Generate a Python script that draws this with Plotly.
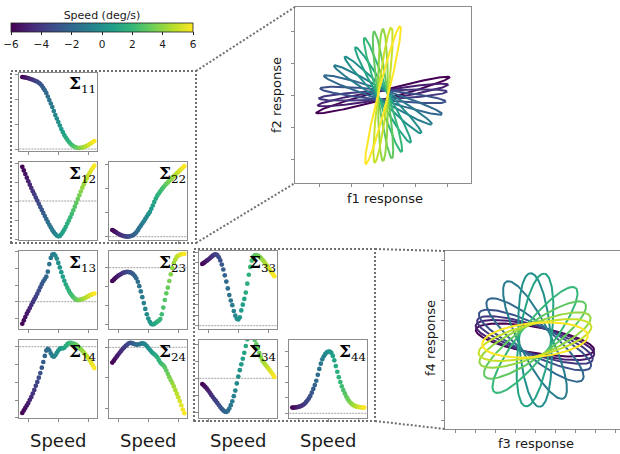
import numpy as np
import plotly.graph_objects as go
from plotly.colors import sample_colorscale

# ---------------- data ----------------
SPEED = [-6.0, -5.75, -5.5, -5.25, -5.0, -4.75, -4.5, -4.25, -4.0, -3.75, -3.5, -3.25,
         -3.0, -2.75, -2.5, -2.25, -2.0, -1.75, -1.5, -1.25, -1.0, -0.75, -0.5, -0.25,
         0.0, 0.25, 0.5, 0.75, 1.0, 1.25, 1.5, 1.75, 2.0, 2.25, 2.5, 2.75, 3.0, 3.25,
         3.5, 3.75, 4.0, 4.25, 4.5, 4.75, 5.0, 5.25, 5.5, 5.75, 6.0]

SIGMA_11 = [2.88, 2.87, 2.86, 2.85, 2.83, 2.81, 2.79, 2.77, 2.74, 2.72, 2.69, 2.65,
            2.60, 2.53, 2.44, 2.35, 2.24, 2.10, 1.96, 1.82, 1.68, 1.52, 1.36, 1.22,
            1.08, 0.94, 0.80, 0.68, 0.56, 0.46, 0.37, 0.29, 0.22, 0.16, 0.12, 0.08,
            0.06, 0.05, 0.04, 0.05, 0.06, 0.08, 0.10, 0.13, 0.16, 0.20, 0.24, 0.28, 0.32]
SIGMA_12 = [1.80, 1.61, 1.42, 1.23, 1.04, 0.86, 0.68, 0.51, 0.35, 0.18, 0.02, -0.15,
            -0.31, -0.47, -0.63, -0.79, -0.95, -1.10, -1.25, -1.39, -1.52, -1.64, -1.74, -1.82,
            -1.86, -1.84, -1.75, -1.63, -1.51, -1.36, -1.19, -1.03, -0.86, -0.68, -0.49, -0.30,
            -0.10, 0.10, 0.30, 0.50, 0.70, 0.87, 1.04, 1.20, 1.36, 1.50, 1.63, 1.75, 1.86]
SIGMA_22 = [0.28, 0.24, 0.20, 0.16, 0.12, 0.09, 0.06, 0.04, 0.02, 0.01, 0.00, 0.01,
            0.02, 0.04, 0.07, 0.12, 0.18, 0.27, 0.37, 0.46, 0.55, 0.64, 0.74, 0.84,
            0.94, 1.03, 1.16, 1.30, 1.45, 1.59, 1.71, 1.80, 1.89, 1.98, 2.06, 2.13,
            2.20, 2.26, 2.33, 2.39, 2.46, 2.52, 2.58, 2.64, 2.70, 2.76, 2.82, 2.88, 2.94]
SIGMA_13 = [-1.32, -1.12, -0.92, -0.72, -0.55, -0.38, -0.20, -0.03, 0.14, 0.30, 0.48, 0.67,
            0.86, 1.05, 1.22, 1.36, 1.50, 1.80, 2.25, 2.62, 2.82, 2.85, 2.76, 2.58,
            2.32, 2.05, 1.77, 1.50, 1.25, 1.03, 0.84, 0.66, 0.50, 0.38, 0.27, 0.18,
            0.12, 0.10, 0.11, 0.13, 0.16, 0.19, 0.23, 0.28, 0.33, 0.38, 0.42, 0.46, 0.49]
SIGMA_23 = [-0.70, -0.63, -0.55, -0.48, -0.42, -0.37, -0.32, -0.28, -0.25, -0.23, -0.22, -0.23,
            -0.25, -0.29, -0.35, -0.44, -0.56, -0.74, -0.97, -1.25, -1.55, -1.86, -2.17, -2.45,
            -2.68, -2.85, -2.96, -2.99, -2.96, -2.90, -2.84, -2.79, -2.70, -2.45, -2.10, -1.70,
            -1.35, -1.05, -0.70, -0.35, -0.02, 0.25, 0.43, 0.57, 0.64, 0.68, 0.71, 0.72, 0.73]
SIGMA_33 = [5.88, 5.98, 6.08, 6.19, 6.30, 6.42, 6.55, 6.67, 6.76, 6.80, 6.72, 6.52,
            6.22, 5.82, 5.35, 4.80, 4.20, 3.55, 2.92, 2.40, 1.95, 1.40, 0.95, 0.65,
            0.60, 0.80, 1.45, 2.00, 2.55, 3.15, 4.00, 4.85, 5.60, 6.20, 6.55, 6.70,
            6.72, 6.68, 6.58, 6.45, 6.30, 6.12, 5.93, 5.73, 5.52, 5.32, 5.12, 4.92, 4.72]
SIGMA_14 = [-3.72, -3.58, -3.44, -3.30, -3.16, -2.98, -2.82, -2.63, -2.43, -2.20, -1.98, -1.74,
            -1.48, -1.18, -0.86, -0.52, -0.22, -0.12, -0.20, -0.38, -0.52, -0.56, -0.48, -0.34,
            -0.22, -0.12, -0.08, -0.10, -0.06, 0.04, 0.14, 0.20, 0.21, 0.20, 0.18, 0.14,
            0.10, 0.02, -0.06, -0.14, -0.23, -0.33, -0.43, -0.53, -0.64, -0.77, -0.91, -1.05, -1.20]
SIGMA_24 = [-0.50, -0.44, -0.37, -0.30, -0.24, -0.17, -0.11, -0.05, 0.00, 0.05, 0.09, 0.13,
            0.15, 0.14, 0.12, 0.10, 0.09, 0.09, 0.10, 0.12, 0.13, 0.12, 0.09, 0.04,
            -0.02, -0.08, -0.14, -0.19, -0.23, -0.27, -0.33, -0.42, -0.50, -0.55, -0.59, -0.66,
            -0.76, -0.87, -0.98, -1.08, -1.17, -1.28, -1.40, -1.52, -1.64, -1.76, -1.90, -2.04, -2.16]
SIGMA_34 = [-0.34, -0.42, -0.51, -0.61, -0.72, -0.85, -0.98, -1.10, -1.22, -1.33, -1.45, -1.57,
            -1.69, -1.80, -1.89, -1.96, -1.98, -1.92, -1.78, -1.58, -1.35, -1.05, -0.72, -0.30,
            0.10, 0.48, 0.82, 1.15, 1.50, 1.90, 2.30, 2.58, 2.66, 2.64, 2.50, 2.25,
            2.00, 1.78, 1.50, 1.25, 1.05, 0.92, 0.80, 0.69, 0.58, 0.47, 0.35, 0.22, 0.08]
SIGMA_44 = [0.37, 0.37, 0.38, 0.39, 0.41, 0.44, 0.48, 0.53, 0.60, 0.70, 0.82, 0.96,
            1.12, 1.33, 1.57, 1.82, 2.10, 2.48, 2.86, 3.20, 3.48, 3.68, 3.83, 3.93,
            3.98, 3.98, 3.90, 3.70, 3.42, 3.05, 2.68, 2.33, 2.02, 1.74, 1.50, 1.28,
            1.08, 0.91, 0.77, 0.66, 0.57, 0.51, 0.46, 0.43, 0.41, 0.39, 0.38, 0.37, 0.37]

# covariance ellipses (f1,f2) and (f3,f4): speed, orientation (deg), semi-axes
ELL12_SPEED = [-6, -5, -4, -3, -2, -1, 0, 1, 2, 3, 4, 5, 6]
ELL12_ANGLE = [15, 9, 3, -6, -18, -31, -45, -60, -72, -82, -90, 83, 76]
ELL12_MAJOR = [69, 66, 64, 63, 62, 57, 54, 55, 60, 64, 66, 68, 71]
ELL12_MINOR = [4.5, 4.5, 4.5, 5, 5, 5, 5, 5, 5, 5, 5, 5, 5]

ELL34_SPEED = [-6, -5, -4, -3, -2, -1, 0, 1, 2, 3, 4, 5, 6]
ELL34_ANGLE = [-10, -14, -19, -26, -40, -64, -86, 82, 52, 36, 23, 14, 5]
ELL34_MAJOR = [60, 61, 61, 62, 62, 65, 67, 67, 66, 62, 60, 58, 53]
ELL34_MINOR = [13, 14, 14, 15, 16, 16, 16, 16, 16, 16, 16, 16, 17]

CB_TICKS = [-6, -4, -2, 0, 2, 4, 6]
CB_TICKTEXT = ["\u22126", "\u22124", "\u22122", "0", "2", "4", "6"]

# ---------------- layout helpers ----------------
W, H = 620, 454


def px(x):
    return x / W


def py(y):
    return 1 - y / H


FRAME = "#8c8c8c"
DOTC = "#707070"
TXT = "#1a1a1a"

fig = go.Figure()
layout = {}
shapes = []
annotations = []

small_axis = dict(showline=True, mirror=True, linecolor=FRAME, linewidth=1,
                  ticks="outside", ticklen=3, tickwidth=1, tickcolor=FRAME,
                  showticklabels=False, showgrid=False, zeroline=False, fixedrange=True)

panels = [
    ("11", SIGMA_11, 0, 0, 149.0, 25.0),
    ("12", SIGMA_12, 1, 0, 201.0, 19.0),
    ("22", SIGMA_22, 1, 1, 236.7, 24.0),
    ("13", SIGMA_13, 2, 0, 301.7, 16.7),
    ("23", SIGMA_23, 2, 1, 267.7, 19.0),
    ("33", SIGMA_33, 2, 2, 325.7, 10.5),
    ("14", SIGMA_14, 3, 0, 346.7, 17.8),
    ("24", SIGMA_24, 3, 1, 347.3, 30.5),
    ("34", SIGMA_34, 3, 2, 378.3, 17.0),
    ("44", SIGMA_44, 3, 3, 413.3, 15.5),
]

for k, (lab, vals, r, c, zero_px, unit) in enumerate(panels, start=1):
    cx = 58.3 + 90 * c
    x0, x1 = cx - 39, cx + 39
    y0 = 73 + 89 * r
    y1 = y0 + 78
    sfx = "" if k == 1 else str(k)
    layout["xaxis" + sfx] = dict(domain=[px(x0), px(x1)], range=[-6.5, 6.5],
                                 anchor="y" + sfx, tickvals=[-5, 0, 5], **small_axis)
    layout["yaxis" + sfx] = dict(domain=[py(y1), py(y0)],
                                 range=[(zero_px - y1) / unit, (zero_px - y0) / unit],
                                 anchor="x" + sfx, tick0=0, dtick=1, **small_axis)
    marker = dict(color=SPEED, colorscale="Viridis", cmin=-6, cmax=6, size=4.7,
                  line=dict(width=0))
    if k == 1:
        marker["showscale"] = True
        marker["colorbar"] = dict(
            orientation="h", x=px(102), xanchor="center", y=py(10), yanchor="top",
            len=182, lenmode="pixels", thickness=9, thicknessmode="pixels",
            xpad=0, ypad=0,
            title=dict(text="Speed (deg/s)", side="top", font=dict(size=11, color=TXT)),
            tickvals=CB_TICKS, ticktext=CB_TICKTEXT, ticks="outside", ticklen=3,
            tickcolor="#222", tickfont=dict(size=10.5, color=TXT),
            outlinewidth=0.8, outlinecolor="#222")
    fig.add_trace(go.Scatter(x=SPEED, y=vals, mode="markers", xaxis="x" + sfx,
                             yaxis="y" + sfx, marker=marker, hoverinfo="skip"))
    shapes.append(dict(type="line", xref="x" + sfx + " domain",
                       x0=0, x1=1, yref="y" + sfx, y0=0, y1=0, layer="below",
                       line=dict(color="#a0a0a0", width=1, dash="2px,1px")))
    annotations.append(dict(text="<b>\u03a3</b><sub>%s</sub>" % lab, xref="paper",
                            yref="paper", x=px(x1 + 1), y=py(y0 - 1.5), xanchor="right",
                            yanchor="top", showarrow=False,
                            font=dict(family="DejaVu Serif", size=17, color="black")))

big_axis = dict(showline=True, linecolor=FRAME, linewidth=1, ticks="outside", ticklen=3,
                tickwidth=1, tickcolor=FRAME, showticklabels=False, showgrid=False,
                zeroline=False, fixedrange=True, tick0=0)

layout["xaxis11"] = dict(domain=[px(295), px(471)], range=[-88, 88], dtick=32,
                         anchor="y11", mirror=True, **big_axis)
layout["yaxis11"] = dict(domain=[py(183), py(7)], range=[-88, 88], dtick=32,
                         anchor="x11", mirror=True, **big_axis)
layout["xaxis12"] = dict(domain=[px(445), 1.0], range=[-90, 85], dtick=20,
                         anchor="y12", mirror=True, **big_axis)
layout["yaxis12"] = dict(domain=[py(429), py(251)], range=[-89, 89], dtick=20,
                         anchor="x12", mirror=False, **big_axis)

t = np.linspace(0, 2 * np.pi, 160)


def add_ellipses(speeds, angles, majors, minors, xa, ya):
    for s, ang, a, b in zip(speeds, angles, majors, minors):
        th = np.deg2rad(ang)
        ex = a * np.cos(t) * np.cos(th) - b * np.sin(t) * np.sin(th)
        ey = a * np.cos(t) * np.sin(th) + b * np.sin(t) * np.cos(th)
        col = sample_colorscale("Viridis", [(s + 6) / 12])[0]
        fig.add_trace(go.Scatter(x=ex, y=ey, mode="lines", xaxis=xa, yaxis=ya,
                                 line=dict(color=col, width=2), hoverinfo="skip"))


add_ellipses(ELL12_SPEED, ELL12_ANGLE, ELL12_MAJOR, ELL12_MINOR, "x11", "y11")
add_ellipses(ELL34_SPEED, ELL34_ANGLE, ELL34_MAJOR, ELL34_MINOR, "x12", "y12")

# axis / column labels
for txt, x, y, ang in [("f1 response", 385, 198, 0), ("f2 response", 277, 95, -90),
                       ("f3 response", 536, 443.5, 0), ("f4 response", 430, 338, -90)]:
    annotations.append(dict(text=txt, xref="paper", yref="paper", x=px(x), y=py(y),
                            xanchor="center", yanchor="middle", textangle=ang,
                            showarrow=False, font=dict(size=13, color=TXT)))
for c in range(4):
    annotations.append(dict(text="Speed", xref="paper", yref="paper", x=px(58.3 + 90 * c),
                            y=py(440), xanchor="center", yanchor="middle",
                            showarrow=False, font=dict(size=18, color=TXT)))

# dotted zoom boxes and connectors
dot_line = dict(color=DOTC, width=2, dash="2px,2px")
shapes.append(dict(type="rect", xref="paper", yref="paper", x0=px(11), x1=px(196),
                   y0=py(243), y1=py(71), line=dot_line, layer="above"))
shapes.append(dict(type="rect", xref="paper", yref="paper", x0=px(194), x1=px(375),
                   y0=py(421), y1=py(249), line=dot_line, layer="above"))
for (ax, ay, bx, by) in [(196, 71, 295, 7), (196, 243, 295, 183),
                         (375, 249, 445, 251), (375, 421, 445, 429)]:
    shapes.append(dict(type="line", xref="paper", yref="paper", x0=px(ax), y0=py(ay),
                       x1=px(bx), y1=py(by), line=dot_line, layer="above"))

fig.update_layout(**layout)
fig.update_layout(width=W, height=H, autosize=False, margin=dict(l=0, r=0, t=0, b=0),
                  paper_bgcolor="white", plot_bgcolor="white", showlegend=False,
                  font=dict(family="DejaVu Sans", color=TXT),
                  shapes=shapes, annotations=annotations)

fig.write_html("out.html", config={"displayModeBar": False, "staticPlot": True},
               post_script="document.body.style.margin='0px';"
                           "document.body.style.overflow='hidden';")
